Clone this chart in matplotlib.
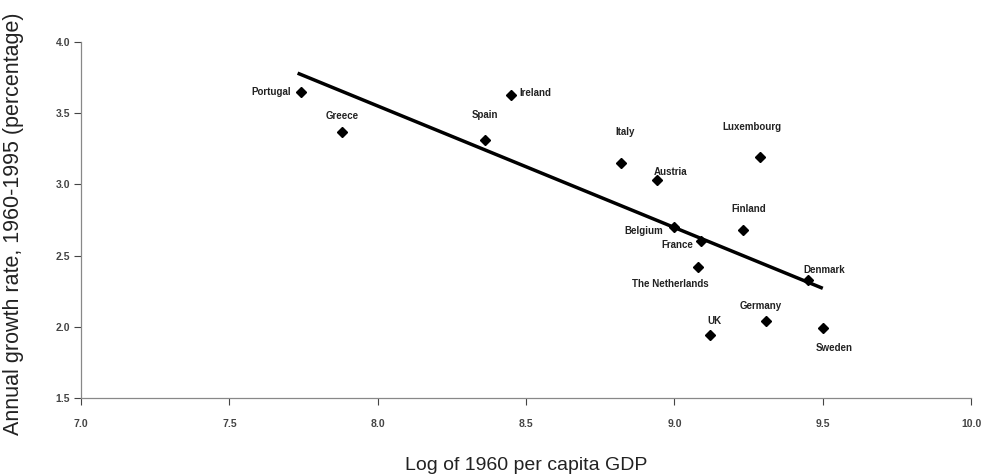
import matplotlib.pyplot as plt
import numpy as np

plt.rcParams['font.family'] = ['Liberation Sans', 'DejaVu Sans']

countries = ['Portugal', 'Greece', 'Spain', 'Ireland', 'Italy', 'Austria',
             'Luxembourg', 'Finland', 'Belgium', 'France', 'The Netherlands',
             'Denmark', 'Germany', 'UK', 'Sweden']
log_gdp = [7.74, 7.88, 8.36, 8.45, 8.82, 8.94, 9.29, 9.23, 9.00, 9.09, 9.08,
           9.45, 9.31, 9.12, 9.50]
growth = [3.65, 3.37, 3.31, 3.63, 3.15, 3.03, 3.19, 2.68, 2.70, 2.60, 2.42,
          2.33, 2.04, 1.94, 1.99]

# fitted line end points
fit_x = [7.73, 9.50]
fit_y = [3.78, 2.27]

# label offsets in points (dx, dy, ha)
offsets = {
    'Portugal': (-7, 0, 'right'), 'Greece': (0, 11, 'center'),
    'Spain': (0, 18, 'center'), 'Ireland': (6, 1, 'left'),
    'Italy': (3, 22, 'center'), 'Austria': (-2, 6, 'left'),
    'Luxembourg': (-6, 22, 'center'), 'Finland': (4, 15, 'center'),
    'Belgium': (-8, -3, 'right'), 'France': (-6, -3, 'right'),
    'The Netherlands': (-20, -12, 'center'), 'Denmark': (12, 7, 'center'),
    'Germany': (-4, 11, 'center'), 'UK': (3, 10, 'center'),
    'Sweden': (8, -14, 'center'),
}

fig = plt.figure(figsize=(9.94, 4.75), dpi=100)
ax = fig.add_axes([0.0815, 0.162, 0.8955, 0.75])

ax.plot(fit_x, fit_y, color='black', lw=2.5, solid_capstyle='butt')
ax.plot(log_gdp, growth, 'D', color='black', markersize=5)

for c, xv, yv in zip(countries, log_gdp, growth):
    dx, dy, ha = offsets[c]
    ax.annotate(c, (xv, yv), xytext=(dx, dy), textcoords='offset points',
                ha=ha, va='center', fontsize=7, fontweight='bold', color='#222222')

ax.set_xlim(7.0, 10.0)
ax.set_ylim(1.5, 4.0)
ax.set_xticks([7.0, 7.5, 8.0, 8.5, 9.0, 9.5, 10.0])
ax.set_yticks([1.5, 2.0, 2.5, 3.0, 3.5, 4.0])
ax.set_xticklabels(['7.0', '7.5', '8.0', '8.5', '9.0', '9.5', '10.0'])
ax.set_yticklabels(['1.5', '2.0', '2.5', '3.0', '3.5', '4.0'])
ax.tick_params(colors='#444444', labelsize=7.5, length=5, width=0.8)
ax.tick_params(axis='x', pad=10)
ax.tick_params(axis='y', pad=3)
for t in ax.get_xticklabels() + ax.get_yticklabels():
    t.set_fontweight('bold')
for s in ['top', 'right']:
    ax.spines[s].set_visible(False)
for s in ['left', 'bottom']:
    ax.spines[s].set_color('#888888')
    ax.spines[s].set_linewidth(0.9)

ax.set_xlabel('Log of 1960 per capita GDP', fontsize=14, color='#222222', labelpad=20)
ax.set_ylabel('Annual growth rate, 1960-1995 (percentage)', fontsize=15.5,
              color='#222222')
ax.yaxis.set_label_coords(-0.064, 0.49)

fig.savefig('out.png', dpi=100)
